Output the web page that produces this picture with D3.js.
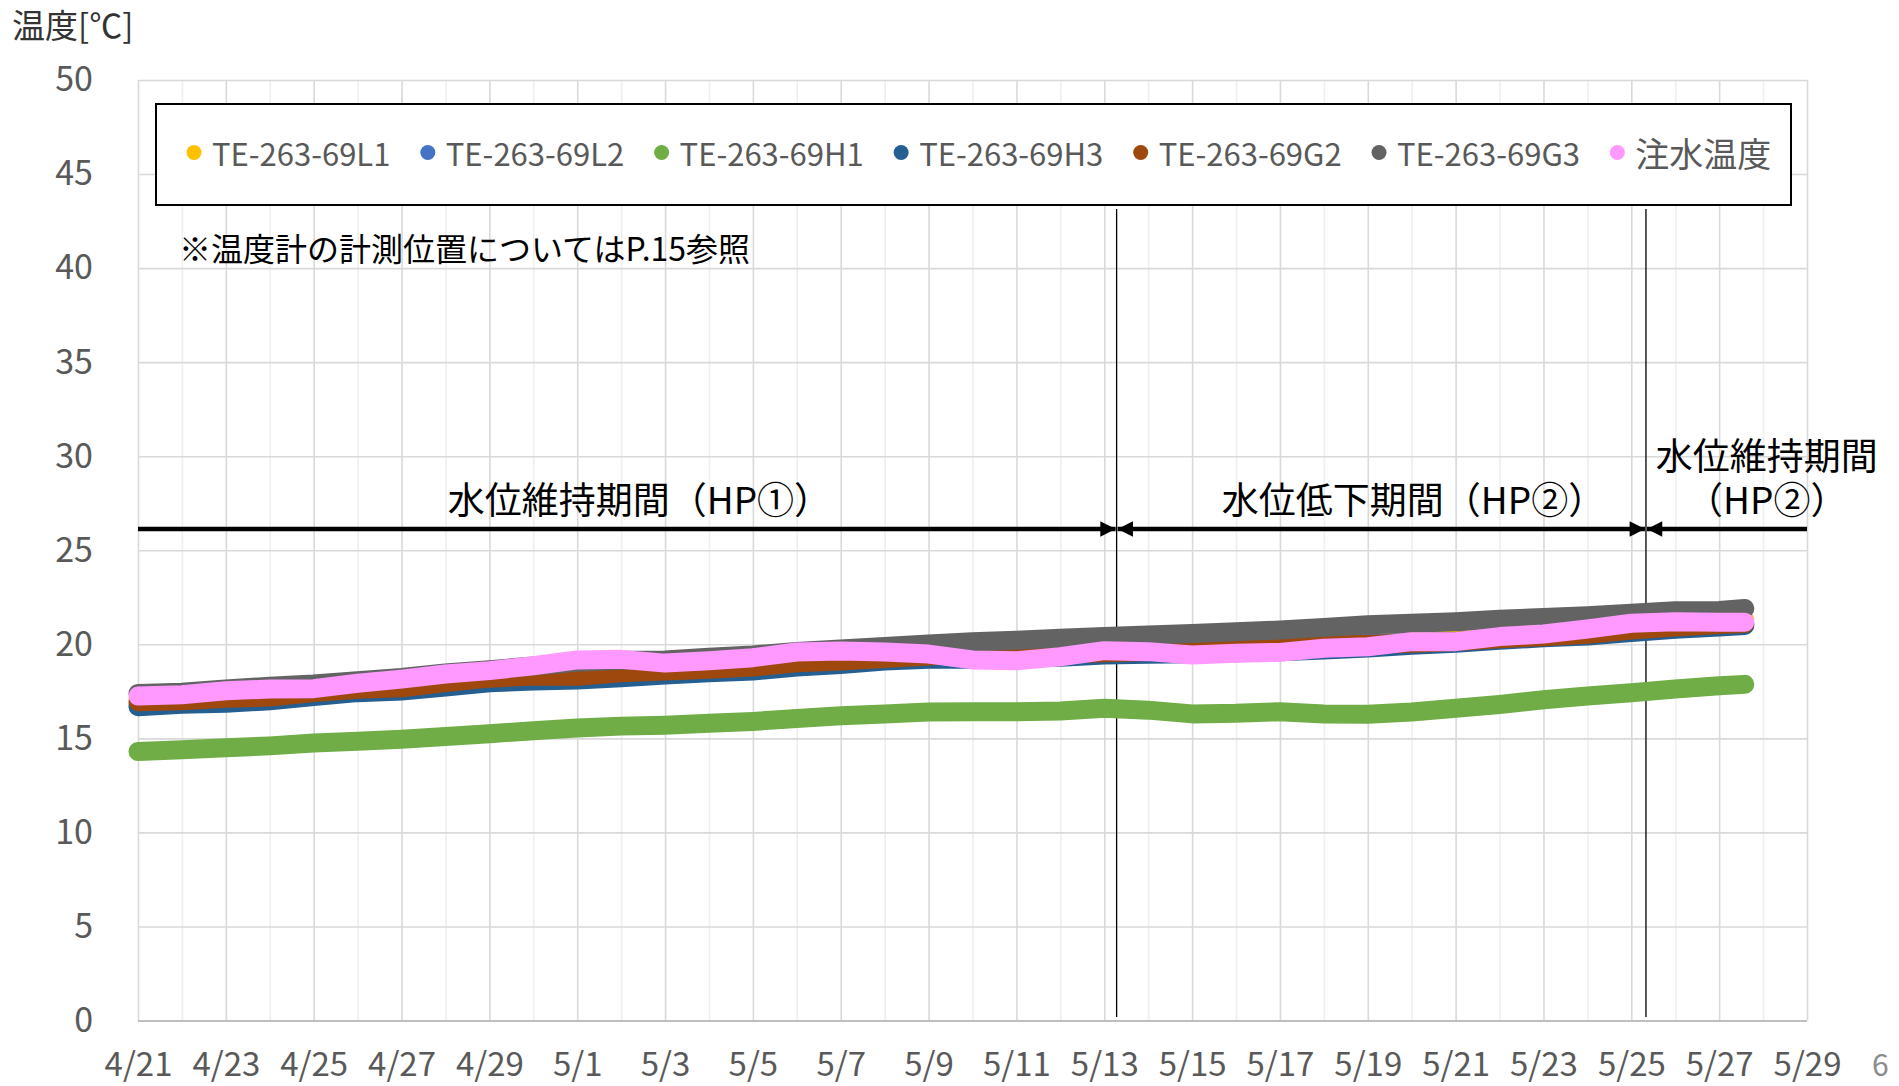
<!DOCTYPE html>
<html lang="ja">
<head>
<meta charset="utf-8">
<script src="https://cdn.jsdelivr.net/npm/d3@7"></script>
<style>
html, body { margin: 0; padding: 0; background: #fff; }
svg { display: block; }
text { font-family: "Noto Sans CJK JP", "Noto Sans", sans-serif; }
</style>
</head>
<body>
<svg id="chart" width="1899" height="1086"></svg>
<script>
// Sample times (daily, plus the last reading on 5/27 afternoon)
const sampleDates = [
  "4/21","4/22","4/23","4/24","4/25","4/26","4/27","4/28","4/29","4/30",
  "5/1","5/2","5/3","5/4","5/5","5/6","5/7","5/8","5/9","5/10",
  "5/11","5/12","5/13","5/14","5/15","5/16","5/17","5/18","5/19","5/20",
  "5/21","5/22","5/23","5/24","5/25","5/26","5/27","5/27 14:00"
];

const seriesNames = ["TE-263-69L1","TE-263-69L2","TE-263-69H1","TE-263-69H3","TE-263-69G2","TE-263-69G3","注水温度"];
const seriesColors = ["#FFC000","#4472C4","#70AD47","#255E91","#9E480E","#636363","#FF99FF"];

// Temperatures [°C]
const L1 = [17.1,17.15,17.3,17.4,17.55,17.75,17.85,18.1,18.35,18.5,18.55,18.65,18.75,18.85,18.95,19.15,19.3,19.4,19.5,19.55,19.6,19.65,19.75,19.85,19.95,20.05,20.15,20.3,20.35,20.45,20.55,20.65,20.75,20.9,21.05,21.15,21.25,21.3];
const L2 = [16.8,16.9,17.0,17.1,17.3,17.5,17.6,17.85,18.05,18.15,18.2,18.35,18.45,18.55,18.7,18.9,19.0,19.15,19.28,19.35,19.4,19.4,19.5,19.55,19.6,19.75,19.85,20.0,20.05,20.1,20.15,20.3,20.4,20.5,20.7,20.85,20.98,21.05];
const H1 = [14.3,14.4,14.5,14.6,14.75,14.85,14.95,15.1,15.25,15.4,15.55,15.65,15.7,15.8,15.9,16.05,16.2,16.3,16.4,16.42,16.42,16.45,16.6,16.5,16.3,16.33,16.42,16.3,16.28,16.4,16.6,16.8,17.05,17.25,17.42,17.62,17.8,17.87];
const H3 = [16.68,16.81,16.86,17.0,17.22,17.43,17.52,17.73,17.95,18.05,18.1,18.22,18.37,18.49,18.58,18.79,18.93,19.11,19.2,19.2,19.3,19.31,19.43,19.47,19.5,19.55,19.6,19.7,19.8,19.95,20.05,20.21,20.35,20.44,20.62,20.8,20.92,21.0];
const G2 = [16.95,17.0,17.13,17.2,17.43,17.61,17.69,17.96,18.2,18.31,18.3,18.49,18.58,18.67,18.79,19.02,19.11,19.25,19.38,19.5,19.5,19.5,19.55,19.62,19.7,19.8,19.87,19.95,20.0,20.05,20.15,20.3,20.4,20.53,20.76,20.92,21.05,21.1];
const G3 = [17.39,17.45,17.62,17.77,17.89,18.07,18.24,18.47,18.65,18.85,19.05,19.15,19.17,19.31,19.43,19.62,19.75,19.89,20.02,20.14,20.21,20.32,20.41,20.49,20.58,20.67,20.76,20.9,21.04,21.12,21.2,21.33,21.43,21.52,21.65,21.79,21.8,21.9];
const injection = [17.25,17.32,17.53,17.62,17.64,17.93,18.15,18.42,18.6,18.86,19.17,19.2,19.0,19.13,19.29,19.59,19.64,19.59,19.48,19.17,19.13,19.34,19.66,19.61,19.43,19.52,19.57,19.79,19.87,20.14,20.14,20.41,20.55,20.81,21.12,21.2,21.17,21.17];

// Axis ticks
const xTickLabels = ["4/21","4/23","4/25","4/27","4/29","5/1","5/3","5/5","5/7","5/9","5/11","5/13","5/15","5/17","5/19","5/21","5/23","5/25","5/27","5/29"];
const yTicks = [0,5,10,15,20,25,30,35,40,45,50];

// Water level periods: boundaries and labels
const periodBounds = ["5/13 06:45","5/25 08:00"];
const periodLabels = [
  { lines: ["水位維持期間（HP①）"], at: "5/2 10:00" },
  { lines: ["水位低下期間（HP②）"], at: "5/20 01:00" },
  { lines: ["水位維持期間", "（HP②）"], at: "5/28 02:00" }
];
const noteText = "※温度計の計測位置についてはP.15参照";

const YEAR = 2023;
const parseT = d3.utcParse("%Y/%m/%d %H:%M");
const toDate = s => parseT(YEAR + "/" + (s.includes(" ") ? s : s + " 00:00"));
const hasCJK = s => /[\u3000-\u9fff\uff00-\uffef]/.test(s);

const seriesValues = [L1, L2, H1, H3, G2, G3, injection];
const times = sampleDates.map(toDate);
const series = seriesNames.map((name, i) => ({
  name, color: seriesColors[i],
  points: times.map((t, j) => ({ t, v: seriesValues[i][j] }))
}));

const svg = d3.select("#chart");
const plot = { left: 138, right: 1807, top: 80, bottom: 1020.5 };

const x = d3.scaleUtc()
  .domain([toDate("4/21"), toDate("5/29")])
  .range([plot.left, plot.right]);
const y = d3.scaleLinear().domain([0, 50]).range([plot.bottom, plot.top]);

// Vertical gridlines: every day, labelled days slightly darker
const allDays = d3.utcDay.range(toDate("4/21"), d3.utcDay.offset(toDate("5/29"), 1));
const labelledSet = new Set(xTickLabels.map(l => +toDate(l)));
const vGrid = svg.append("g")
  .attr("transform", `translate(0,${plot.bottom})`)
  .call(d3.axisBottom(x).tickValues(allDays).tickSize(-(plot.bottom - plot.top)).tickFormat(""));
vGrid.select(".domain").remove();
vGrid.selectAll(".tick line")
  .attr("stroke", d => labelledSet.has(+d) ? "#d9d9d9" : "#efefef")
  .attr("stroke-width", 1.6);

// Horizontal gridlines
const hGrid = svg.append("g")
  .attr("transform", `translate(${plot.left},0)`)
  .call(d3.axisLeft(y).tickValues(yTicks).tickSize(-(plot.right - plot.left)).tickFormat(""));
hGrid.select(".domain").remove();
hGrid.selectAll(".tick line")
  .attr("stroke", d => d === 0 ? "#bfbfbf" : "#d9d9d9")
  .attr("stroke-width", d => d === 0 ? 2 : 1.6);

// Y tick labels
const yAxis = svg.append("g")
  .attr("transform", `translate(${plot.left},0)`)
  .call(d3.axisLeft(y).tickValues(yTicks).tickSize(0).tickPadding(45));
yAxis.select(".domain").remove();
yAxis.selectAll("text")
  .attr("fill", "#595959")
  .style("font-size", "34px");

// X tick labels
const xAxis = svg.append("g")
  .attr("transform", `translate(0,${plot.bottom})`)
  .call(d3.axisBottom(x).tickValues(xTickLabels.map(toDate)).tickSize(0)
    .tickFormat((d, i) => xTickLabels[i]));
xAxis.select(".domain").remove();
xAxis.selectAll("text")
  .attr("y", 1075.5 - plot.bottom)
  .attr("dy", null)
  .attr("fill", "#595959")
  .style("font-size", "33px");

// Y axis title
svg.append("text")
  .attr("x", 12).attr("y", 24)
  .attr("dominant-baseline", "central")
  .attr("fill", "#333")
  .style("font-size", "33px")
  .text("温度[℃]");

// Period boundary lines
svg.append("g").selectAll("line")
  .data(periodBounds.map(toDate))
  .join("line")
  .attr("x1", d => x(d)).attr("x2", d => x(d))
  .attr("y1", 209).attr("y2", 1017)
  .attr("stroke", "#000").attr("stroke-width", 1.3);

// Temperature series (thick bands of overlapping markers)
const line = d3.line().x(d => x(d.t)).y(d => y(d.v));
svg.append("g").selectAll("path")
  .data(series)
  .join("path")
  .attr("d", d => line(d.points))
  .attr("fill", "none")
  .attr("stroke", d => d.color)
  .attr("stroke-width", 19)
  .attr("stroke-linecap", "round")
  .attr("stroke-linejoin", "round");

// Period arrows
const defs = svg.append("defs");
defs.append("marker")
  .attr("id", "arrowEnd").attr("viewBox", "0 0 10 10")
  .attr("refX", 10).attr("refY", 5)
  .attr("markerWidth", 3.8).attr("markerHeight", 3.4)
  .attr("markerUnits", "strokeWidth").attr("orient", "auto")
  .append("path").attr("d", "M0,0 L10,5 L0,10 Z").attr("fill", "#000");
defs.append("marker")
  .attr("id", "arrowStart").attr("viewBox", "0 0 10 10")
  .attr("refX", 0).attr("refY", 5)
  .attr("markerWidth", 3.8).attr("markerHeight", 3.4)
  .attr("markerUnits", "strokeWidth").attr("orient", "auto")
  .append("path").attr("d", "M10,0 L0,5 L10,10 Z").attr("fill", "#000");

const bounds = [toDate("4/21"), ...periodBounds.map(toDate), toDate("5/29")];
const arrowY = 529;
const segs = [
  { a: bounds[0], b: bounds[1], start: false, end: true },
  { a: bounds[1], b: bounds[2], start: true, end: true },
  { a: bounds[2], b: bounds[3], start: true, end: false }
];
svg.append("g").selectAll("line")
  .data(segs)
  .join("line")
  .attr("x1", d => x(d.a) + (d.start ? 1 : 0))
  .attr("x2", d => x(d.b) - (d.end ? 1 : 0))
  .attr("y1", arrowY).attr("y2", arrowY)
  .attr("stroke", "#000").attr("stroke-width", 4.5)
  .attr("marker-start", d => d.start ? "url(#arrowStart)" : null)
  .attr("marker-end", d => d.end ? "url(#arrowEnd)" : null);

// Period labels (multi-line labels as one text with tspans)
const lblG = svg.append("g");
periodLabels.forEach(p => {
  const n = p.lines.length;
  const cx = x(toDate(p.at));
  const t = lblG.append("text")
    .attr("x", cx)
    .attr("y", 498 - (n - 1) * 44)
    .attr("text-anchor", "middle")
    .attr("dominant-baseline", "central")
    .attr("fill", "#000")
    .style("font-size", "37px");
  p.lines.forEach((s, k) => {
    t.append("tspan")
      .attr("x", cx)
      .attr("dy", k === 0 ? 0 : 44)
      .text(s);
  });
});

// Note
svg.append("text")
  .attr("x", 179).attr("y", 247)
  .attr("dominant-baseline", "central")
  .attr("fill", "#000")
  .style("font-size", "32px")
  .text(noteText);

// Legend
const legend = svg.append("g");
legend.append("rect")
  .attr("x", 156).attr("y", 104)
  .attr("width", 1791 - 156).attr("height", 205 - 104)
  .attr("fill", "#fff").attr("stroke", "#000").attr("stroke-width", 2);
let lx = 194;
series.forEach(s => {
  legend.append("circle")
    .attr("cx", lx).attr("cy", 152.5).attr("r", 7.5)
    .attr("fill", s.color);
  const t = legend.append("text")
    .attr("x", lx + 18).attr("y", 152.5)
    .attr("dominant-baseline", "central")
    .attr("fill", "#595959")
    .style("font-size", hasCJK(s.name) ? "34px" : "31px")
    .text(s.name);
  lx += 18 + t.node().getComputedTextLength() + 37.4;
});

// Page number
svg.append("text")
  .attr("x", 1872).attr("y", 1075.5)
  .attr("fill", "#8c8c8c")
  .style("font-size", "30px")
  .text("6");
</script>
</body>
</html>
